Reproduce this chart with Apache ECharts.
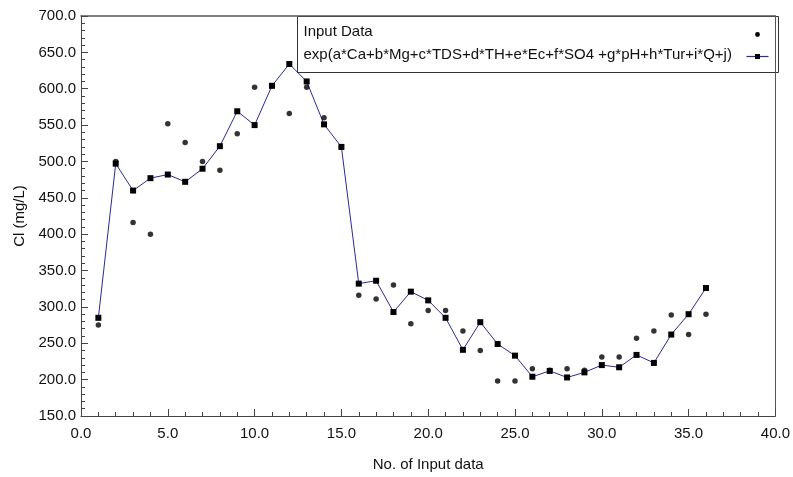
<!DOCTYPE html>
<html>
<head>
<meta charset="utf-8">
<title>Cl model fit</title>
<script src="https://cdn.jsdelivr.net/npm/echarts@6/dist/echarts.min.js"></script>
<style>
  html, body { margin: 0; padding: 0; background: #fff; }
  #main { width: 793px; height: 477px; }
</style>
</head>
<body>
<div id="main"></div>
<script>
// sample number
var sampleNo = [1, 2, 3, 4, 5, 6, 7, 8, 9, 10, 11, 12, 13, 14, 15, 16, 17, 18,
  19, 20, 21, 22, 23, 24, 25, 26, 27, 28, 29, 30, 31, 32, 33, 34, 35, 36];
// measured Cl (mg/L)
var inputData = [275, 500, 416, 400, 552, 526, 500, 488, 538, 602, 604, 566, 602, 560, 520, 316,
  311, 330, 277, 295, 295, 267, 240, 198, 198, 215, 213, 215, 213, 231, 231, 257,
  267, 289, 262, 290];
// fitted exp model
var fitData = [285, 497, 460, 477, 482, 472, 490, 521, 569, 550, 604, 634, 610, 551, 520, 332,
  336, 293, 321, 309, 285, 241, 279, 249, 233, 204, 212, 203, 210, 220, 217, 234,
  223, 262, 290, 326];

var legendNames = ['Input Data', 'exp(a*Ca+b*Mg+c*TDS+d*TH+e*Ec+f*SO4 +g*pH+h*Tur+i*Q+j)'];

var font = 'Liberation Sans, Arial, sans-serif';

function pairs(vals) {
  return sampleNo.map(function (x, i) { return [x, vals[i]]; });
}

var chart = echarts.init(document.getElementById('main'));

var option = {
  backgroundColor: '#fff',
  animation: false,
  textStyle: { fontFamily: font },
  grid: { left: 81, top: 16, right: 15, bottom: 60 },
  xAxis: [{
    type: 'value', min: 0, max: 40, interval: 5,
    name: 'No. of Input data', nameLocation: 'middle', nameGap: 41,
    nameTextStyle: { color: '#111', fontSize: 15, fontFamily: font },
    axisLine: { lineStyle: { color: '#444', width: 1 } },
    axisTick: { inside: true, length: 7, lineStyle: { color: '#444' } },
    minorTick: { show: true, splitNumber: 5, length: 4, lineStyle: { color: '#444' } },
    axisLabel: { color: '#111', fontSize: 15, margin: 10, formatter: function (v) { return v.toFixed(1); } },
    splitLine: { show: false }
  }, {
    type: 'value', position: 'top', min: 0, max: 40,
    axisLine: { show: true, onZero: false, lineStyle: { color: '#555', width: 1.5 } },
    axisTick: { show: false }, axisLabel: { show: false }, splitLine: { show: false }
  }],
  yAxis: [{
    type: 'value', min: 150, max: 700, interval: 50,
    name: 'Cl (mg/L)', nameLocation: 'middle', nameGap: 49,
    nameTextStyle: { color: '#111', fontSize: 15, fontFamily: font },
    axisLine: { show: true, lineStyle: { color: '#444', width: 1 } },
    axisTick: { show: true, inside: true, length: 7, lineStyle: { color: '#444' } },
    minorTick: { show: true, splitNumber: 5, length: 4, lineStyle: { color: '#444' } },
    axisLabel: { color: '#111', fontSize: 15, margin: 5, formatter: function (v) { return v.toFixed(1); } },
    splitLine: { show: false }
  }, {
    type: 'value', position: 'right', min: 150, max: 700,
    axisLine: { show: true, onZero: false, lineStyle: { color: '#555' } },
    axisTick: { show: false }, axisLabel: { show: false }, splitLine: { show: false }
  }],
  series: [{
    name: legendNames[0],
    type: 'scatter',
    data: pairs(inputData),
    symbol: 'circle',
    symbolSize: 5.5,
    itemStyle: { color: '#000' },
    z: 3
  }, {
    name: legendNames[1],
    type: 'line',
    data: pairs(fitData),
    symbol: 'rect',
    symbolSize: 6,
    showAllSymbol: true,
    lineStyle: { color: '#2a2a96', width: 1 },
    itemStyle: { color: '#000', borderWidth: 0 },
    z: 2
  }],
  // legend box drawn by hand: markers sit at the right end like the original
  graphic: [{
    type: 'group', left: 297, top: 16,
    children: [{
      type: 'rect', shape: { x: 0, y: 0, width: 481, height: 56 },
      style: { fill: '#fff', stroke: '#333', lineWidth: 1 }
    }, {
      type: 'text', x: 6, y: 15,
      style: { text: legendNames[0], font: '15px ' + font, fill: '#111', textVerticalAlign: 'middle' }
    }, {
      type: 'text', x: 6, y: 38,
      style: { text: legendNames[1], font: '15px ' + font, fill: '#111', textVerticalAlign: 'middle' }
    }, {
      type: 'circle', shape: { cx: 460, cy: 18, r: 2.4 }, style: { fill: '#000' }
    }, {
      type: 'line', shape: { x1: 449, y1: 40, x2: 471, y2: 40 },
      style: { stroke: '#2a2a96', lineWidth: 1.2 }
    }, {
      type: 'rect', shape: { x: 457.5, y: 37.5, width: 5, height: 5 }, style: { fill: '#000' }
    }]
  }]
};

chart.setOption(option);
</script>
</body>
</html>
